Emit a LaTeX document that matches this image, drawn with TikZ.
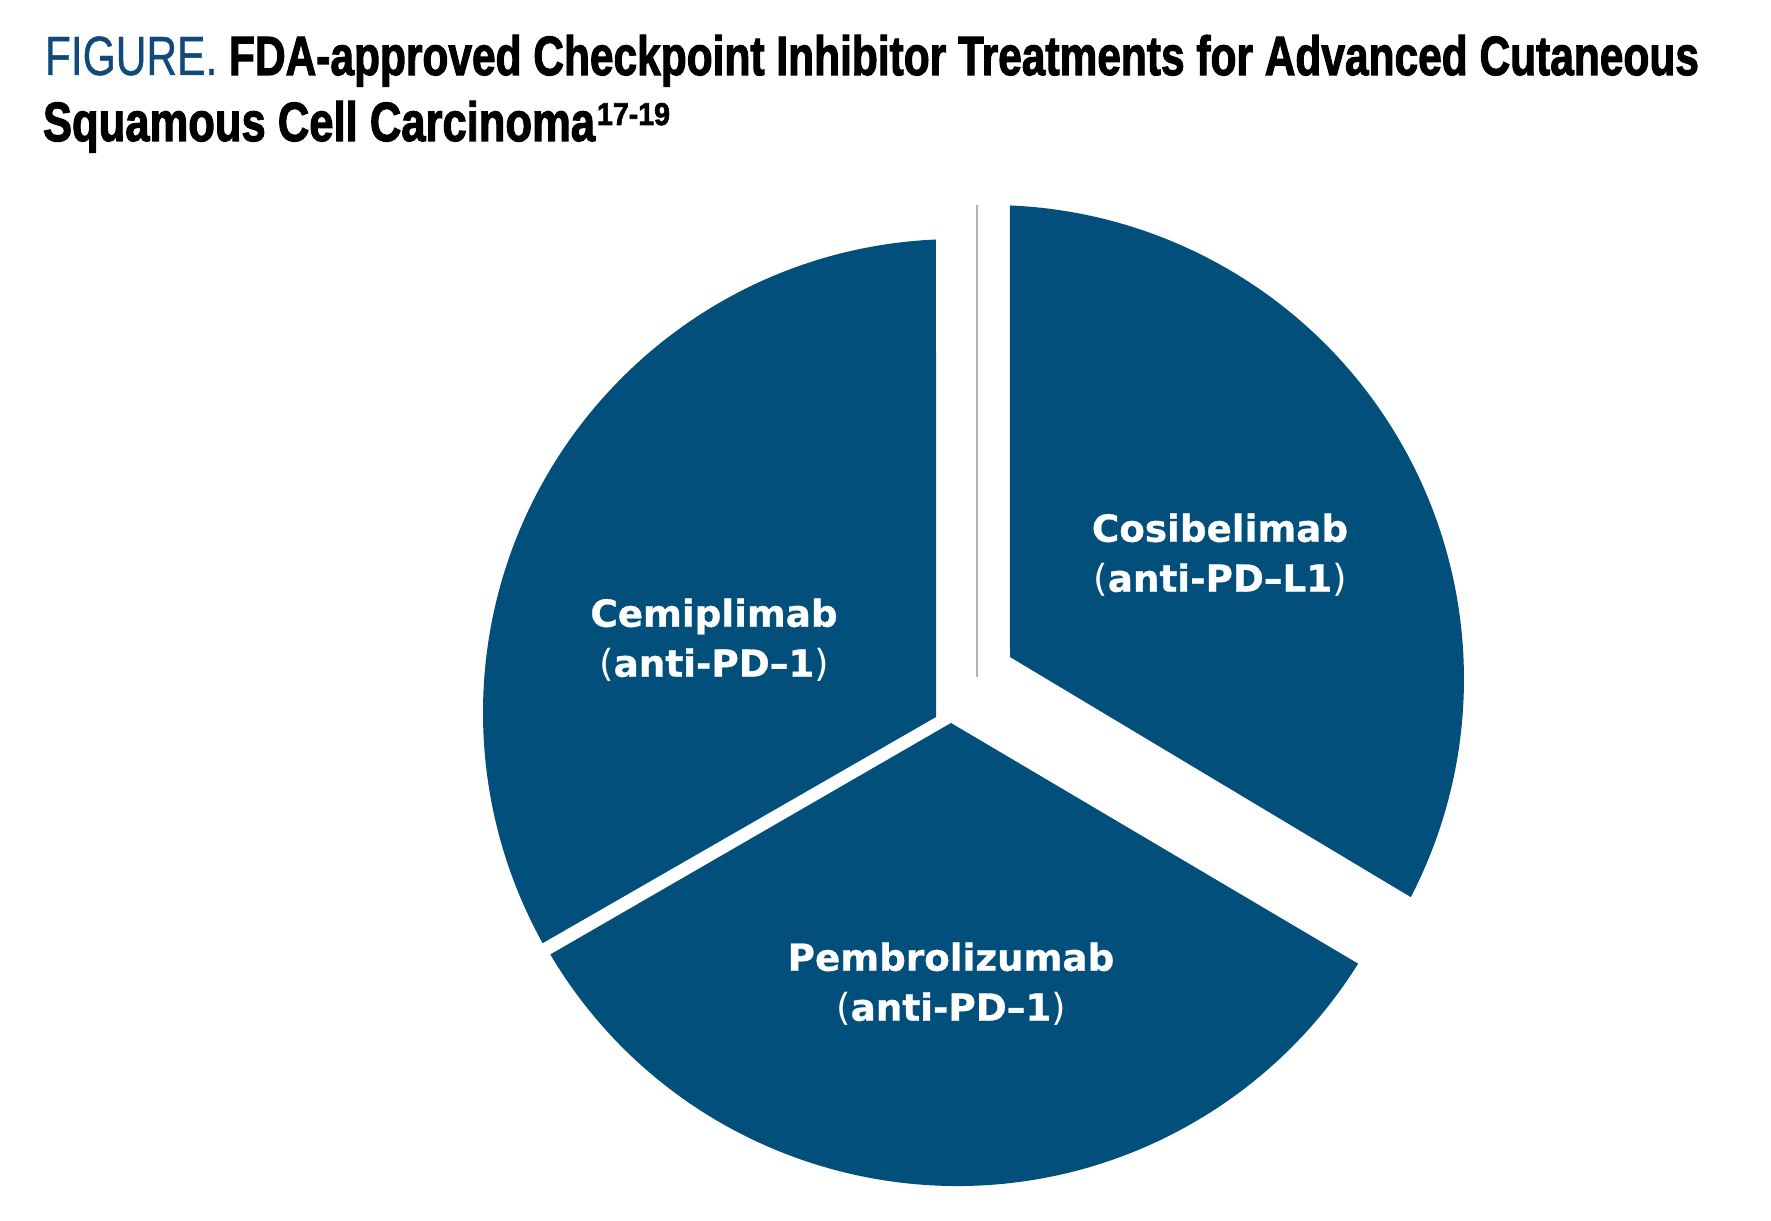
\documentclass[tikz,border=0pt]{standalone}
\usepackage{fontspec}
\setmainfont{Liberation Sans}[BoldFeatures={FakeBold=2.2}]
\newfontfamily\figfont{Liberation Sans}[FakeBold=0.8]
\newfontfamily\labelfont{DejaVu Sans}[BoldFeatures={FakeBold=0.8}]
\usepackage{graphicx}
\definecolor{pieblue}{RGB}{2,79,123}
\definecolor{figblue}{RGB}{16,74,122}
\definecolor{hairgray}{RGB}{178,178,192}

\begin{document}
\begin{tikzpicture}[x=0.01cm, y=0.01cm, every node/.style={inner sep=0pt, outer sep=0pt}]
        \tikzset{slice/.style={fill=pieblue, draw=none}}
        \tikzset{slicelabel/.style={text=white, align=center, font=\labelfont\bfseries\fontsize{10.6pt}{14.2pt}\selectfont}}
        \useasboundingbox[fill=white] (0,0) rectangle (1771,1220);
        % title
        \node[anchor=base west] (title1) at (45,1145) {\resizebox{16.53cm}{0.40cm}{\textcolor{figblue}{\figfont FIGURE.} \textbf{FDA-approved Checkpoint Inhibitor Treatments for Advanced Cutaneous}}};
        \node[anchor=base west] (title2) at (43,1079) {\resizebox{5.52cm}{0.40cm}{\textbf{Squamous Cell Carcinoma}}};
        \node[anchor=base west] (refs) at (597,1095) {\resizebox{0.73cm}{0.22cm}{\textbf{17-19}}};
        % pie centres
        \coordinate (c) at (957,507);
        \coordinate (cr) at (990,541);
        \fill[slice] (936,503) -- ([shift={(92.54:474)}]c) arc[start angle=92.54, end angle=209.05, radius=474] -- cycle;
        \fill[slice] (951,497) -- ([shift={(210.7:473)}]c) arc[start angle=210.7, end angle=328, radius=473] -- cycle;
        \fill[slice] (1010,563) -- ([shift={(87.6:474)}]cr) arc[start angle=87.6, end angle=-27.4, radius=474] -- cycle;
        \draw[hairgray, line width=0.3pt] (977,1015) -- (977,543);
        % labels
        \node[slicelabel] (cemi) at (714,580) {Cemiplimab\\{\mdseries(}anti-PD–1{\mdseries)}};
        \node[slicelabel] (cosi) at (1220,665) {Cosibelimab\\{\mdseries(}anti-PD–L1{\mdseries)}};
        \node[slicelabel] (pembro) at (951,236) {Pembrolizumab\\{\mdseries(}anti-PD–1{\mdseries)}};
      \end{tikzpicture}
\end{document}
